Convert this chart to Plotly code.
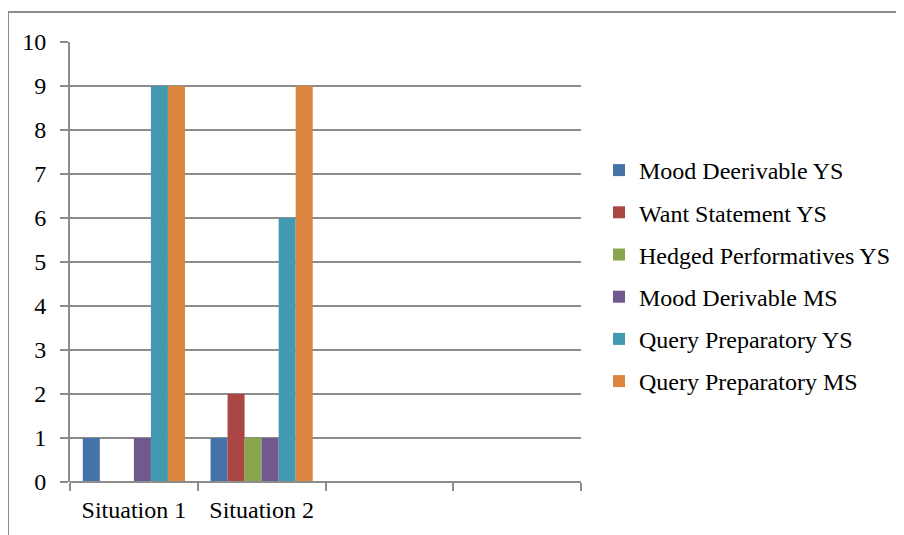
import plotly.graph_objects as go

categories = ["Situation 1", "Situation 2", "", ""]
series_names = [
    "Mood Deerivable YS",
    "Want Statement YS",
    "Hedged Performatives YS",
    "Mood Derivable MS",
    "Query Preparatory YS",
    "Query Preparatory MS",
]
mood_deerivable_ys = [1, 1, None, None]
want_statement_ys = [0, 2, None, None]
hedged_performatives_ys = [0, 1, None, None]
mood_derivable_ms = [1, 1, None, None]
query_preparatory_ys = [9, 6, None, None]
query_preparatory_ms = [9, 9, None, None]
series_values = [
    mood_deerivable_ys,
    want_statement_ys,
    hedged_performatives_ys,
    mood_derivable_ms,
    query_preparatory_ys,
    query_preparatory_ms,
]
colors = ["#4572A7", "#AA4643", "#89A54E", "#71588F", "#4299B0", "#DC853E"]
y_ticks = list(range(0, 11))

positions = list(range(len(categories)))
FONT = "Times New Roman, Liberation Serif, serif"
FS = 24
GRID = "#8C8C8C"

L, R, T, B = 62, 331, 34, 61
PW, PH = 904 - L - R, 535 - T - B


def px_x(x):
    return (x - L) / PW


def px_y(y):
    return (T + PH - y) / PH


fig = go.Figure()
for i, (name, vals, col) in enumerate(zip(series_names, series_values, colors)):
    fig.add_trace(go.Bar(
        x=positions, y=vals, name=name, marker_color=col,
        marker_line_width=0, legendgroup=f"g{i}",
    ))

fig.update_layout(
    width=904, height=535,
    margin=dict(l=L, r=R, t=T, b=B),
    paper_bgcolor="white", plot_bgcolor="white",
    barmode="group", bargap=0.2, bargroupgap=0,
    font=dict(family=FONT, size=FS, color="black"),
    showlegend=True,
    legend=dict(
        x=px_x(591), y=px_y(268), xanchor="left", yanchor="middle",
        font=dict(family=FONT, size=FS, color="black"),
        tracegroupgap=8, itemwidth=30,
        bgcolor="rgba(0,0,0,0)",
    ),
    xaxis=dict(
        range=[-0.5, 3.5],
        tickvals=positions, ticktext=categories,
        ticks="", showgrid=False, zeroline=False,
        showline=False,
        minor=dict(ticks="outside", tick0=-0.5, dtick=1, ticklen=8,
                   tickcolor=GRID, tickwidth=2, showgrid=False),
        ticklabelstandoff=11,
        tickfont=dict(family=FONT, size=FS, color="black"),
    ),
    yaxis=dict(
        range=[0, 10], tickvals=y_ticks,
        showgrid=True, gridcolor=GRID, gridwidth=2,
        zeroline=False,
        showline=True, linecolor=GRID, linewidth=2,
        ticks="outside", ticklen=8, tickcolor=GRID, tickwidth=2,
        tickfont=dict(family=FONT, size=FS, color="black"),
        ticklabelstandoff=9,
    ),
    shapes=[
        dict(type="line", xref="paper", yref="paper",
             x0=px_x(0), x1=px_x(904),
             y0=px_y(4), y1=px_y(4),
             line=dict(color="#8C8C8C", width=2)),
        dict(type="line", xref="paper", yref="paper",
             x0=px_x(0), x1=px_x(0),
             y0=px_y(4), y1=px_y(540),
             line=dict(color="#8C8C8C", width=2)),
        dict(type="line", xref="paper", yref="paper",
             x0=0, x1=1, y0=0, y1=0,
             line=dict(color=GRID, width=2)),
    ],
)

fig.write_html("out.html")
